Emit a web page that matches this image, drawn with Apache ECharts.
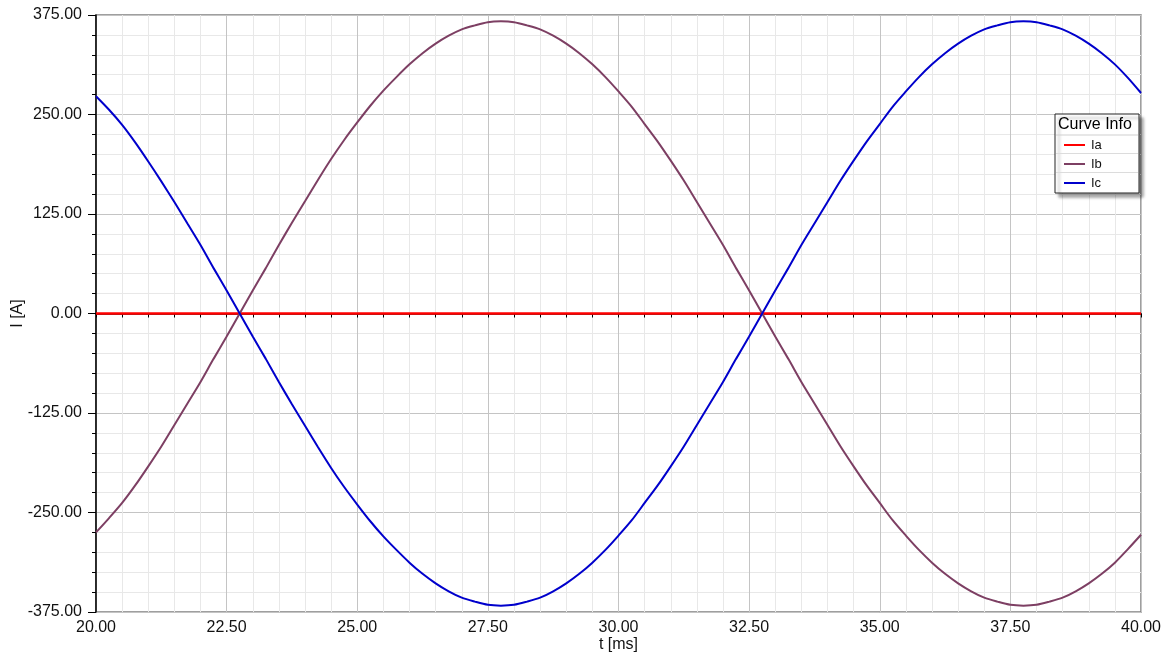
<!DOCTYPE html>
<html>
<head>
<meta charset="utf-8">
<title>Curve Info</title>
<script src="https://cdn.jsdelivr.net/npm/echarts@6/dist/echarts.min.js"></script>
<style>
html, body { margin: 0; padding: 0; background: #fff; }
#main { width: 1167px; height: 655px; }
</style>
</head>
<body>
<div id="main"></div>
<script>
// time axis, ms (read every 0.25 ms)
var timeMs = [20, 20.25, 20.5, 20.75, 21, 21.25, 21.5, 21.75, 22, 22.25,
	22.5, 22.75, 23, 23.25, 23.5, 23.75, 24, 24.25, 24.5, 24.75,
	25, 25.25, 25.5, 25.75, 26, 26.25, 26.5, 26.75, 27, 27.25,
	27.5, 27.75, 28, 28.25, 28.5, 28.75, 29, 29.25, 29.5, 29.75,
	30, 30.25, 30.5, 30.75, 31, 31.25, 31.5, 31.75, 32, 32.25,
	32.5, 32.75, 33, 33.25, 33.5, 33.75, 34, 34.25, 34.5, 34.75,
	35, 35.25, 35.5, 35.75, 36, 36.25, 36.5, 36.75, 37, 37.25,
	37.5, 37.75, 38, 38.25, 38.5, 38.75, 39, 39.25, 39.5, 39.75, 40];

// phase currents, A
var currentIa = [0, 0, 0, 0, 0, 0, 0, 0, 0, 0,
	0, 0, 0, 0, 0, 0, 0, 0, 0, 0,
	0, 0, 0, 0, 0, 0, 0, 0, 0, 0,
	0, 0, 0, 0, 0, 0, 0, 0, 0, 0,
	0, 0, 0, 0, 0, 0, 0, 0, 0, 0,
	0, 0, 0, 0, 0, 0, 0, 0, 0, 0,
	0, 0, 0, 0, 0, 0, 0, 0, 0, 0,
	0, 0, 0, 0, 0, 0, 0, 0, 0, 0, 0];
var currentIb = [-275, -257, -238, -216, -192, -167, -140, -113, -86, -57,
	-29, 0, 29, 57, 86, 114, 141, 168, 194, 218,
	240, 261, 280, 297, 313, 327, 339, 349, 357, 362,
	366, 367, 366, 362, 357, 349, 339, 327, 313, 297,
	279, 260, 238, 216, 192, 167, 140, 113, 86, 57,
	29, 0, -29, -57, -86, -113, -140, -167, -192, -216,
	-238, -260, -279, -297, -313, -327, -339, -349, -357, -362,
	-366, -367, -366, -362, -357, -349, -339, -327, -313, -296, -278];
var currentIc = [273, 256, 237, 215, 191, 166, 140, 113, 86, 57,
	29, 0, -29, -57, -86, -114, -141, -168, -194, -218,
	-240, -261, -280, -297, -313, -327, -339, -349, -357, -362,
	-366, -367, -366, -362, -357, -349, -339, -327, -313, -297,
	-279, -260, -238, -216, -192, -167, -140, -113, -86, -57,
	-29, 0, 29, 57, 86, 113, 140, 167, 192, 216,
	238, 260, 279, 297, 313, 327, 339, 349, 357, 362,
	366, 367, 366, 362, 357, 349, 339, 327, 313, 296, 277];

var seriesNames = ['Ia', 'Ib', 'Ic'];
var seriesColors = ['#ff0000', '#7d3f63', '#0000cc'];

function pairs(xs, ys) {
	var out = [];
	for (var i = 0; i < xs.length; i++) {
		out.push([xs[i], ys[i]]);
	}
	return out;
}

var fontName = '"Liberation Sans", Arial, sans-serif';

var option = {
	backgroundColor : '#ffffff',
	animation : false,
	grid : {
		left : 96,
		right : 26,
		top : 15,
		bottom : 43,
		outerBoundsMode : 'none',
		containLabel : false,
		show : true,
		borderColor : '#808080',
		borderWidth : 1.5,
		backgroundColor : 'transparent'
	},
	legend : {
		orient : 'vertical',
		left : 1059,
		top : 133,
		itemWidth : 21,
		itemHeight : 2,
		itemGap : 5,
		icon : 'rect',
		selectedMode : false,
		z : 20,
		textStyle : {
			fontFamily : fontName,
			fontSize : 13,
			color : '#111',
			lineHeight : 14,
			padding : [0, 0, 0, 1]
		},
		data : seriesNames
	},
	xAxis : {
		type : 'value',
		min : 20,
		max : 40,
		interval : 2.5,
		name : 't [ms]',
		nameLocation : 'middle',
		nameGap : 25,
		nameMoveOverlap : false,
		nameTextStyle : {
			fontFamily : fontName,
			fontSize : 16,
			color : '#111'
		},
		axisLine : {
			lineStyle : { color : '#000', width : 1.5 }
		},
		axisTick : {
			show : true,
			length : 4,
			lineStyle : { color : '#000' }
		},
		minorTick : {
			show : true,
			splitNumber : 5,
			length : 4,
			lineStyle : { color : '#000' }
		},
		axisLabel : {
			margin : 8,
			fontFamily : fontName,
			fontSize : 16,
			color : '#111',
			formatter : function(value) {
				return value.toFixed(2);
			}
		},
		splitLine : {
			show : true,
			lineStyle : { color : '#c4c4c4', width : 1 }
		},
		minorSplitLine : {
			show : true,
			lineStyle : { color : '#e8e8e8', width : 1 }
		}
	},
	yAxis : {
		type : 'value',
		min : -375,
		max : 375,
		interval : 125,
		name : 'I [A]',
		nameLocation : 'middle',
		nameGap : 70,
		nameMoveOverlap : false,
		nameTextStyle : {
			fontFamily : fontName,
			fontSize : 16,
			color : '#111'
		},
		axisLine : {
			show : true,
			onZero : false,
			lineStyle : { color : '#000', width : 1.5 }
		},
		axisTick : {
			show : true,
			length : 8,
			lineStyle : { color : '#000' }
		},
		minorTick : {
			show : true,
			splitNumber : 5,
			length : 4,
			lineStyle : { color : '#000' }
		},
		axisLabel : {
			margin : 14,
			fontFamily : fontName,
			fontSize : 16,
			color : '#111',
			formatter : function(value) {
				return value.toFixed(2);
			}
		},
		splitLine : {
			show : true,
			lineStyle : { color : '#c4c4c4', width : 1 }
		},
		minorSplitLine : {
			show : true,
			lineStyle : { color : '#e8e8e8', width : 1 }
		}
	},
	// legend frame, header and row separators
	graphic : [
		{
			type : 'rect',
			z : 10,
			shape : { x : 1055, y : 114, width : 84, height : 79 },
			style : {
				fill : '#fff',
				stroke : '#222',
				lineWidth : 1,
				shadowColor : 'rgba(0,0,0,0.35)',
				shadowBlur : 3,
				shadowOffsetX : 4,
				shadowOffsetY : 4
			}
		},
		{
			type : 'text',
			z : 11,
			x : 1058,
			y : 125,
			style : {
				text : 'Curve Info',
				fontFamily : fontName,
				fontSize : 16,
				fill : '#000',
				verticalAlign : 'middle'
			}
		},
		{
			type : 'line',
			z : 11,
			shape : { x1 : 1056, y1 : 135, x2 : 1138, y2 : 135 },
			style : { stroke : '#cfcfcf', lineWidth : 1 }
		},
		{
			type : 'line',
			z : 11,
			shape : { x1 : 1056, y1 : 153.5, x2 : 1138, y2 : 153.5 },
			style : { stroke : '#dcdcdc', lineWidth : 1 }
		},
		{
			type : 'line',
			z : 11,
			shape : { x1 : 1056, y1 : 172.5, x2 : 1138, y2 : 172.5 },
			style : { stroke : '#dcdcdc', lineWidth : 1 }
		}
	],
	series : [
		{
			name : seriesNames[0],
			type : 'line',
			data : pairs(timeMs, currentIa),
			showSymbol : false,
			color : seriesColors[0],
			lineStyle : { width : 2.5, color : seriesColors[0] },
			z : 3
		},
		{
			name : seriesNames[1],
			type : 'line',
			smooth : 0.3,
			data : pairs(timeMs, currentIb),
			showSymbol : false,
			color : seriesColors[1],
			lineStyle : { width : 2, color : seriesColors[1] }
		},
		{
			name : seriesNames[2],
			type : 'line',
			smooth : 0.3,
			data : pairs(timeMs, currentIc),
			showSymbol : false,
			color : seriesColors[2],
			lineStyle : { width : 2, color : seriesColors[2] }
		}
	]
};

var chart = echarts.init(document.getElementById('main'));
chart.setOption(option);
</script>
</body>
</html>
